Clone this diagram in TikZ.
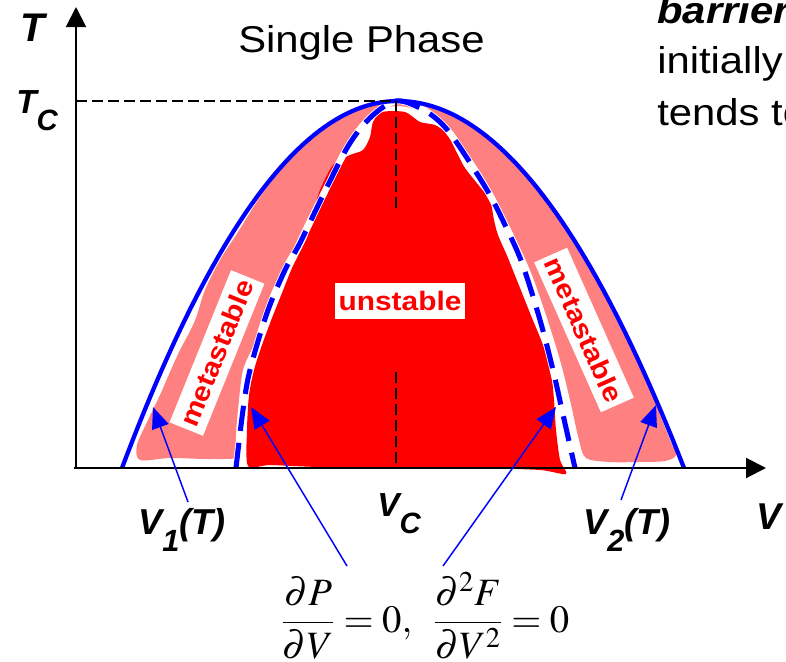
\documentclass[tikz,border=0pt]{standalone}
\usepackage{mathptmx}
\usepackage[no-math]{fontspec}
\setmainfont[FakeStretch=1.12]{Liberation Sans}
\newfontfamily\lsans{Liberation Sans}
\usetikzlibrary{arrows.meta}
\definecolor{cblue}{RGB}{0,0,255}
\definecolor{cpink}{RGB}{255,128,128}
\definecolor{cred}{RGB}{255,0,0}
\newcommand\spinpath{plot[smooth,tension=0.55] coordinates {(236,468) (243,410) (250,370) (267,313) (285,270) (300,243) (327,187) (350,143) (372,116) (396,101) (420,108) (440,122) (457,143) (487,190) (505,225) (522,263) (540,320) (553,370) (562,410) (575,468)}}
\tikzset{
  axisline/.style={line width=1.5pt, -{Triangle[length=15pt,width=15pt]}},
  coex/.style={cblue, line width=3.2pt},
  spino/.style={cblue, line width=3.8pt, dash pattern=on 19pt off 9pt},
  blackdash/.style={black, line width=1.1pt, dash pattern=on 8pt off 4pt},
  ptr/.style={cblue, line width=1.1pt, -{Triangle[length=16pt,width=13pt]}},
  lab/.style={inner sep=0pt, font=\lsans\bfseries\itshape},
  regionbox/.style={fill=white, text=cred, font=\bfseries\fontsize{20}{22}\selectfont, inner xsep=3pt, inner ysep=0pt, minimum height=27pt},
  plain/.style={inner sep=0pt, font=\fontsize{28}{32}\selectfont}
}
\begin{document}
\begin{tikzpicture}[x=0.75pt,y=-0.75pt]
\useasboundingbox (0,0) rectangle (786,661);
% metastable (pink) region
\fill[cpink] plot[smooth cycle,tension=0.5] coordinates {
 (140,460) (137,445) (148,420) (160,395) (170,372) (180,350) (188,335) (196,318)
 (205,290) (220,260) (238,232) (258,200) (279,172) (304,145) (329,125) (354,111) (379,103)
 (396,102) (420,104) (445,112) (468,124) (489,140) (511,160) (529,180) (545,200) (562,225)
 (579,252) (597,282) (614,315) (632,350) (648,385) (660,415) (670,440) (676,455)
 (665,461) (640,462) (610,462) (586,458)
 (579,440) (570,400) (560,360) (545,312) (527,263) (491,190) (460,143) (432,115) (396,106)
 (368,117) (347,143) (323,187) (296,243) (278,288) (262,325) (254,345) (243,370) (238,410) (236,440) (240,457)
 (210,459) (170,458)};
% unstable (red) region
\fill[cred] plot[smooth cycle,tension=0.45] coordinates {
 (248,466) (247,430) (249,395) (254,370) (262,345) (272,318) (282,293) (292,268) (302,248)
 (308,235) (313,213) (320,190) (333,165) (350,155) (363,150) (370,137) (373,122) (382,112)
 (405,112) (420,122) (435,125) (447,134) (457,153) (465,168) (480,187) (490,200) (494,220)
 (498,235) (508,258) (520,288) (532,318) (543,345) (551,372) (554,400) (556,430) (560,460)
 (566,474) (540,470) (480,468) (400,467) (320,467) (270,465)};
% spinodal
\draw[white, line width=5pt] \spinpath;
\draw[spino] \spinpath;
% coexistence
\draw[coex] plot[domain=-276:0,samples=50] ({398+\x},{101+367*(\x/276)*(\x/276)})
  -- plot[domain=0:286,samples=50] ({398+\x},{101+367*(\x/286)*(\x/286)});
% dashed guides
\coordinate (peak) at (396,101);
\coordinate (tcy) at (76,101);
\coordinate (vd1) at (396,213);
\coordinate (vd2) at (396,372);
\coordinate (vd3) at (396,468);
\draw[blackdash] (tcy) -- (peak);
\draw[blackdash] (peak) -- (vd1);
\draw[blackdash] (vd2) -- (vd3);
% axes
\coordinate (origin) at (76,468);
\coordinate (xleft) at (74,468);
\coordinate (ytip) at (76,7);
\coordinate (xtip) at (766,468);
\draw[axisline] (origin) -- (ytip);
\draw[axisline] (xleft) -- (xtip);
% region labels
\node[regionbox] (unst) at (400,301) {unstable};
\node[regionbox, rotate=68] (meta1) at (217,353) {metastable};
\node[regionbox, rotate=-66] (meta2) at (584,330) {metastable};
% axis labels
\node[lab, anchor=base west] (tlab) at (20,41) {\fontsize{30}{32}\selectfont T};
\node[lab, anchor=base west] (tclab) at (16,113) {\fontsize{25}{27}\selectfont T\raisebox{-13pt}{\fontsize{22}{24}\selectfont C}};
\node[lab, anchor=base west] (vlab) at (756,529) {\fontsize{28}{30}\selectfont V};
\node[lab, anchor=base west] (vclab) at (377,516) {\fontsize{25}{27}\selectfont V\raisebox{-13pt}{\fontsize{22}{24}\selectfont C}};
\node[lab, anchor=base west] (v1lab) at (138,534) {\fontsize{27}{29}\selectfont V\raisebox{-13pt}{\fontsize{23}{25}\selectfont 1}(T)};
\node[lab, anchor=base west] (v2lab) at (583,534) {\fontsize{27}{29}\selectfont V\raisebox{-13pt}{\fontsize{23}{25}\selectfont 2}(T)};
% texts
\node[plain, anchor=base west] (single) at (238,52) {Single Phase};
\node[plain, anchor=base west, font=\fontsize{28}{32}\selectfont\bfseries\itshape] (barrier) at (657,23) {barrier};
\node[plain, anchor=base west] (initially) at (657,73) {initially};
\node[plain, anchor=base west] (tends) at (657,125) {tends to};
% formula
\node[inner sep=0pt, anchor=base west] (formula) at (281,632) {\fontsize{29}{34}\selectfont $\displaystyle \frac{\partial P}{\partial V}=0,\;\;\frac{\partial^2 F}{\partial V^2}=0$};
% pointers
\coordinate (a1s) at (188,502);
\coordinate (a1e) at (153,407);
\coordinate (a2s) at (347,566);
\coordinate (a2e) at (251,407);
\coordinate (a3s) at (443,566);
\coordinate (a3e) at (556,407);
\coordinate (a4s) at (621,500);
\coordinate (a4e) at (656,405);
\draw[ptr] (a1s) -- (a1e);
\draw[ptr] (a2s) -- (a2e);
\draw[ptr] (a3s) -- (a3e);
\draw[ptr] (a4s) -- (a4e);
\end{tikzpicture}
\end{document}
